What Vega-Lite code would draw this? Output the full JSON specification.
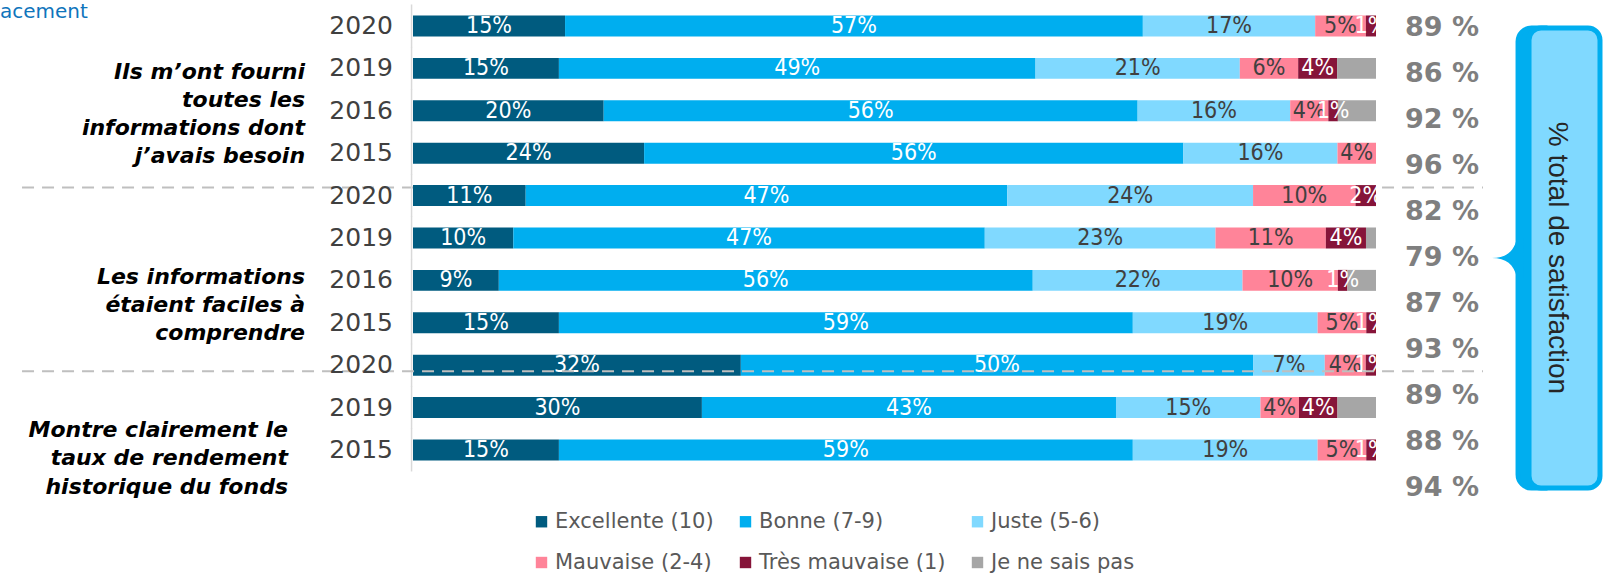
{
  "$schema": "https://vega.github.io/schema/vega-lite/v6.json",
  "width": 963,
  "height": 510,
  "autosize": {"type": "none"},
  "padding": {"left": 413, "top": 3, "right": 228, "bottom": 66},
  "background": "white",
  "config": {
    "view": {"stroke": null},
    "axisX": {"disable": true},
    "text": {"font": "DejaVu Sans"}
  },
  "datasets": {
    "seg": [
      {"row": "A-2020", "cat": "Excellente (10)", "k": 1, "v": 0.15},
      {"row": "A-2020", "cat": "Bonne (7-9)", "k": 2, "v": 0.57},
      {"row": "A-2020", "cat": "Juste (5-6)", "k": 3, "v": 0.17},
      {"row": "A-2020", "cat": "Mauvaise (2-4)", "k": 4, "v": 0.05},
      {"row": "A-2020", "cat": "Très mauvaise (1)", "k": 5, "v": 0.01},
      {"row": "A-2019", "cat": "Excellente (10)", "k": 1, "v": 0.15},
      {"row": "A-2019", "cat": "Bonne (7-9)", "k": 2, "v": 0.49},
      {"row": "A-2019", "cat": "Juste (5-6)", "k": 3, "v": 0.21},
      {"row": "A-2019", "cat": "Mauvaise (2-4)", "k": 4, "v": 0.06},
      {"row": "A-2019", "cat": "Très mauvaise (1)", "k": 5, "v": 0.04},
      {"row": "A-2019", "cat": "Je ne sais pas", "k": 6, "v": 0.04},
      {"row": "A-2016", "cat": "Excellente (10)", "k": 1, "v": 0.20},
      {"row": "A-2016", "cat": "Bonne (7-9)", "k": 2, "v": 0.56},
      {"row": "A-2016", "cat": "Juste (5-6)", "k": 3, "v": 0.16},
      {"row": "A-2016", "cat": "Mauvaise (2-4)", "k": 4, "v": 0.04},
      {"row": "A-2016", "cat": "Très mauvaise (1)", "k": 5, "v": 0.01},
      {"row": "A-2016", "cat": "Je ne sais pas", "k": 6, "v": 0.04},
      {"row": "A-2015", "cat": "Excellente (10)", "k": 1, "v": 0.24},
      {"row": "A-2015", "cat": "Bonne (7-9)", "k": 2, "v": 0.56},
      {"row": "A-2015", "cat": "Juste (5-6)", "k": 3, "v": 0.16},
      {"row": "A-2015", "cat": "Mauvaise (2-4)", "k": 4, "v": 0.04},
      {"row": "B-2020", "cat": "Excellente (10)", "k": 1, "v": 0.11},
      {"row": "B-2020", "cat": "Bonne (7-9)", "k": 2, "v": 0.47},
      {"row": "B-2020", "cat": "Juste (5-6)", "k": 3, "v": 0.24},
      {"row": "B-2020", "cat": "Mauvaise (2-4)", "k": 4, "v": 0.10},
      {"row": "B-2020", "cat": "Très mauvaise (1)", "k": 5, "v": 0.02},
      {"row": "B-2019", "cat": "Excellente (10)", "k": 1, "v": 0.10},
      {"row": "B-2019", "cat": "Bonne (7-9)", "k": 2, "v": 0.47},
      {"row": "B-2019", "cat": "Juste (5-6)", "k": 3, "v": 0.23},
      {"row": "B-2019", "cat": "Mauvaise (2-4)", "k": 4, "v": 0.11},
      {"row": "B-2019", "cat": "Très mauvaise (1)", "k": 5, "v": 0.04},
      {"row": "B-2019", "cat": "Je ne sais pas", "k": 6, "v": 0.01},
      {"row": "B-2016", "cat": "Excellente (10)", "k": 1, "v": 0.09},
      {"row": "B-2016", "cat": "Bonne (7-9)", "k": 2, "v": 0.56},
      {"row": "B-2016", "cat": "Juste (5-6)", "k": 3, "v": 0.22},
      {"row": "B-2016", "cat": "Mauvaise (2-4)", "k": 4, "v": 0.10},
      {"row": "B-2016", "cat": "Très mauvaise (1)", "k": 5, "v": 0.01},
      {"row": "B-2016", "cat": "Je ne sais pas", "k": 6, "v": 0.03},
      {"row": "B-2015", "cat": "Excellente (10)", "k": 1, "v": 0.15},
      {"row": "B-2015", "cat": "Bonne (7-9)", "k": 2, "v": 0.59},
      {"row": "B-2015", "cat": "Juste (5-6)", "k": 3, "v": 0.19},
      {"row": "B-2015", "cat": "Mauvaise (2-4)", "k": 4, "v": 0.05},
      {"row": "B-2015", "cat": "Très mauvaise (1)", "k": 5, "v": 0.01},
      {"row": "C-2020", "cat": "Excellente (10)", "k": 1, "v": 0.32},
      {"row": "C-2020", "cat": "Bonne (7-9)", "k": 2, "v": 0.50},
      {"row": "C-2020", "cat": "Juste (5-6)", "k": 3, "v": 0.07},
      {"row": "C-2020", "cat": "Mauvaise (2-4)", "k": 4, "v": 0.04},
      {"row": "C-2020", "cat": "Très mauvaise (1)", "k": 5, "v": 0.01},
      {"row": "C-2019", "cat": "Excellente (10)", "k": 1, "v": 0.30},
      {"row": "C-2019", "cat": "Bonne (7-9)", "k": 2, "v": 0.43},
      {"row": "C-2019", "cat": "Juste (5-6)", "k": 3, "v": 0.15},
      {"row": "C-2019", "cat": "Mauvaise (2-4)", "k": 4, "v": 0.04},
      {"row": "C-2019", "cat": "Très mauvaise (1)", "k": 5, "v": 0.04},
      {"row": "C-2019", "cat": "Je ne sais pas", "k": 6, "v": 0.04},
      {"row": "C-2015", "cat": "Excellente (10)", "k": 1, "v": 0.15},
      {"row": "C-2015", "cat": "Bonne (7-9)", "k": 2, "v": 0.59},
      {"row": "C-2015", "cat": "Juste (5-6)", "k": 3, "v": 0.19},
      {"row": "C-2015", "cat": "Mauvaise (2-4)", "k": 4, "v": 0.05},
      {"row": "C-2015", "cat": "Très mauvaise (1)", "k": 5, "v": 0.01}
    ],
    "rows": [
      {"row": "A-2020", "year": "2020", "total": "89 %"},
      {"row": "A-2019", "year": "2019", "total": "86 %"},
      {"row": "A-2016", "year": "2016", "total": "92 %"},
      {"row": "A-2015", "year": "2015", "total": "96 %"},
      {"row": "B-2020", "year": "2020", "total": "82 %"},
      {"row": "B-2019", "year": "2019", "total": "79 %"},
      {"row": "B-2016", "year": "2016", "total": "87 %"},
      {"row": "B-2015", "year": "2015", "total": "93 %"},
      {"row": "C-2020", "year": "2020", "total": "89 %"},
      {"row": "C-2019", "year": "2019", "total": "88 %"},
      {"row": "C-2015", "year": "2015", "total": "94 %"}
    ]
  },
  "layer": [
    {
      "layer": [
        {
          "data": {"values": [{}]},
          "mark": {"type": "rule", "stroke": "#BFBFBF", "strokeWidth": 2, "strokeDash": [12, 8]},
          "encoding": {
            "y": {"datum": "B-2020", "type": "nominal", "bandPosition": 0.12, "axis": null},
            "x": {"datum": -0.406, "type": "quantitative"},
            "x2": {"datum": 1.1111}
          }
        },
        {
          "data": {"name": "rows"},
          "mark": {"type": "tick", "orient": "vertical", "color": "#D9D9D9", "size": 43, "thickness": 1.5, "opacity": 1},
          "encoding": {
            "y": {"field": "row", "type": "nominal", "axis": null},
            "x": {"datum": -0.0015, "type": "quantitative"}
          }
        },
        {
          "data": {"name": "seg"},
          "mark": {"type": "bar"},
          "encoding": {
            "y": {
              "field": "row", "type": "nominal",
              "scale": {
                "type": "band",
                "domain": ["A-2020","A-2019","A-2016","A-2015","B-2020","B-2019","B-2016","B-2015","C-2020","C-2019","C-2015"],
                "paddingInner": 0.505, "paddingOuter": 0.7666, "align": 0.192, "round": false
              },
              "axis": null
            },
            "x": {
              "field": "v", "type": "quantitative", "stack": "normalize",
              "scale": {"domain": [0, 1], "nice": false, "zero": false}
            },
            "order": {"field": "k", "type": "quantitative"},
            "color": {
              "field": "cat", "type": "nominal",
              "scale": {
                "domain": ["Excellente (10)", "Bonne (7-9)", "Juste (5-6)", "Mauvaise (2-4)", "Très mauvaise (1)", "Je ne sais pas"],
                "range": ["#005B7F", "#00AEEF", "#80D9FF", "#FF8499", "#861439", "#A6A6A6"]
              },
              "legend": {
                "orient": "none", "legendX": 118, "legendY": 508,
                "direction": "horizontal", "columns": 3, "title": null,
                "symbolType": "square", "symbolSize": 130, "symbolStrokeWidth": 0,
                "labelFont": "DejaVu Sans", "labelFontSize": 21, "labelColor": "#595959",
                "labelOffset": 3, "columnPadding": 21, "rowPadding": 19, "gridAlign": "each", "labelLimit": 400
              }
            }
          }
        },
        {
          "data": {"name": "seg"},
          "mark": {"type": "text", "font": "DejaVu Sans Condensed, Liberation Sans Narrow, DejaVu Sans", "fontSize": 23, "baseline": "middle", "align": "center"},
          "encoding": {
            "y": {"field": "row", "type": "nominal", "axis": null},
            "x": {"field": "v", "type": "quantitative", "stack": "normalize", "bandPosition": 0.5},
            "order": {"field": "k", "type": "quantitative"},
            "detail": {"field": "cat"},
            "text": {"condition": {"test": "datum.cat === 'Je ne sais pas'", "value": ""}, "field": "v", "type": "quantitative", "format": ".0%"},
            "color": {"condition": {"test": "datum.cat === 'Juste (5-6)' || datum.cat === 'Mauvaise (2-4)'", "value": "#404040"}, "value": "#FFFFFF"}
          }
        },
        {
          "data": {"values": [{}]},
          "mark": {"type": "rule", "stroke": "#BFBFBF", "strokeWidth": 2, "strokeDash": [12, 8]},
          "encoding": {
            "y": {"datum": "C-2020", "type": "nominal", "bandPosition": 0.79, "axis": null},
            "x": {"datum": -0.406, "type": "quantitative"},
            "x2": {"datum": 1.1111}
          }
        },
        {
          "data": {"name": "rows"},
          "mark": {"type": "text", "align": "right", "baseline": "middle", "font": "DejaVu Sans", "fontSize": 25, "color": "#404040"},
          "encoding": {
            "y": {"field": "row", "type": "nominal", "axis": null},
            "x": {"datum": -0.0208, "type": "quantitative"},
            "text": {"field": "year"}
          }
        },
        {
          "data": {"values": [
            {"row": "A-2019", "label": "Ils m’ont fourni|toutes les|informations dont|j’avais besoin"}
          ]},
          "mark": {"type": "text", "align": "right", "baseline": "middle", "lineBreak": "|", "lineHeight": 28, "fontSize": 22, "fontWeight": "bold", "fontStyle": "italic", "color": "#000000"},
          "encoding": {
            "y": {"field": "row", "type": "nominal", "bandPosition": 0.69, "axis": null},
            "x": {"datum": -0.1121, "type": "quantitative"},
            "text": {"field": "label"}
          }
        },
        {
          "data": {"values": [
            {"row": "B-2016", "label": "Les informations|étaient faciles à|comprendre"}
          ]},
          "mark": {"type": "text", "align": "right", "baseline": "middle", "lineBreak": "|", "lineHeight": 28, "fontSize": 22, "fontWeight": "bold", "fontStyle": "italic", "color": "#000000"},
          "encoding": {
            "y": {"field": "row", "type": "nominal", "bandPosition": 0.36, "axis": null},
            "x": {"datum": -0.1121, "type": "quantitative"},
            "text": {"field": "label"}
          }
        },
        {
          "data": {"values": [
            {"row": "C-2019", "label": "Montre clairement le|taux de rendement|historique du fonds"}
          ]},
          "mark": {"type": "text", "align": "right", "baseline": "middle", "lineBreak": "|", "lineHeight": 28.5, "fontSize": 22, "fontWeight": "bold", "fontStyle": "italic", "color": "#000000"},
          "encoding": {
            "y": {"field": "row", "type": "nominal", "bandPosition": 1.56, "axis": null},
            "x": {"datum": -0.1298, "type": "quantitative"},
            "text": {"field": "label"}
          }
        },
        {
          "data": {"values": [{"row": "A-2020", "label": "acement"}]},
          "mark": {"type": "text", "align": "left", "baseline": "alphabetic", "fontSize": 20, "color": "#0F75BC"},
          "encoding": {
            "y": {"field": "row", "type": "nominal", "bandPosition": 0.12, "axis": null},
            "x": {"datum": -0.4289, "type": "quantitative"},
            "text": {"field": "label"}
          }
        }
      ]
    },
    {
      "layer": [
        {
          "data": {"values": [{}]},
          "mark": {"type": "rect", "fill": "#00AEEF", "stroke": "#00AEEF", "strokeWidth": 5, "cornerRadiusTopLeft": 30, "cornerRadiusBottomLeft": 30},
          "encoding": {
            "y": {"datum": "A-2020", "type": "nominal",
              "scale": {"type": "point", "domain": ["A-2020","A-2019","A-2016","A-2015","B-2020","B-2019","B-2016","B-2015","C-2020","C-2019","C-2015"], "padding": 0.543},
              "axis": null},
            "y2": {"datum": "C-2015"},
            "x": {"datum": 1.1475, "type": "quantitative"},
            "x2": {"datum": 1.1755}
          }
        },
        {
          "data": {"values": [{}]},
          "mark": {"type": "point", "shape": "M -1 0 C -0.3 0 0.1 -0.3 0.25 -1 L 0.6 -1 L 0.6 1 L 0.25 1 C 0.1 0.3 -0.3 0 -1 0 Z", "size": 1600, "filled": true, "fill": "#00AEEF", "opacity": 1, "strokeWidth": 0},
          "encoding": {
            "y": {"datum": "B-2019", "type": "nominal", "axis": null},
            "x": {"datum": 1.1412, "type": "quantitative"}
          }
        },
        {
          "data": {"values": [{}]},
          "mark": {"type": "rect", "fill": "#80D9FF", "stroke": "#00AEEF", "strokeWidth": 5, "cornerRadius": 12},
          "encoding": {
            "y": {"datum": "A-2020", "type": "nominal", "axis": null},
            "y2": {"datum": "C-2015"},
            "x": {"datum": 1.1589, "type": "quantitative"},
            "x2": {"datum": 1.2326}
          }
        },
        {
          "data": {"values": [{"row": "B-2019", "label": "% total de satisfaction"}]},
          "mark": {"type": "text", "angle": 90, "align": "center", "baseline": "middle", "font": "Liberation Sans", "fontSize": 28, "color": "#262626"},
          "encoding": {
            "y": {"field": "row", "type": "nominal", "axis": null},
            "x": {"datum": 1.188, "type": "quantitative"},
            "text": {"field": "label"}
          }
        },
        {
          "data": {"name": "rows"},
          "mark": {"type": "text", "align": "left", "baseline": "middle", "fontSize": 27, "fontWeight": "bold", "color": "#7F7F7F"},
          "encoding": {
            "y": {"field": "row", "type": "nominal", "axis": null},
            "x": {"datum": 1.0301, "type": "quantitative"},
            "text": {"field": "total"}
          }
        }
      ]
    }
  ],
  "resolve": {"scale": {"y": "independent"}}
}
